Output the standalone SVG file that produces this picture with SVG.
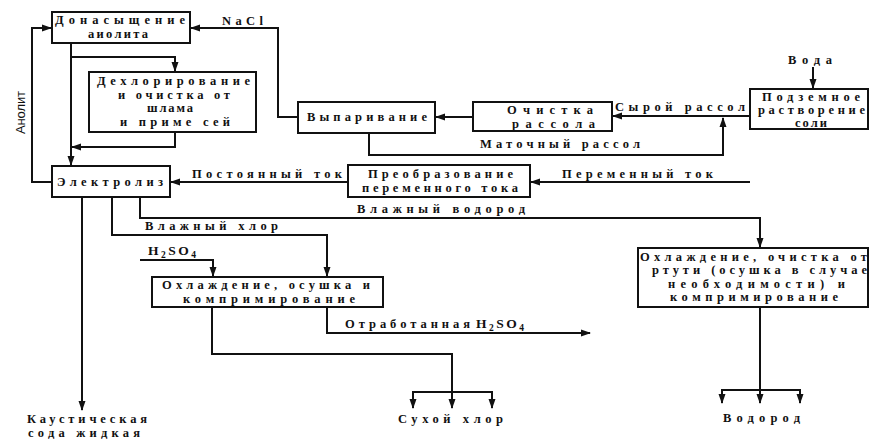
<svg xmlns="http://www.w3.org/2000/svg" width="872" height="439" viewBox="0 0 872 439">
<style>
text{font-family:"Liberation Serif","DejaVu Serif",serif;font-weight:bold;font-size:12.5px;fill:#111}
.chem{font-size:13.5px;letter-spacing:2.5px}
.sub{font-size:9.5px}
.box{fill:#fff;stroke:#111;stroke-width:2}
.ln{fill:none;stroke:#111;stroke-width:2}
.ar{fill:none;stroke:#111;stroke-width:2;marker-end:url(#ah)}
</style>
<defs>
<marker id="ah" markerWidth="10" markerHeight="10" refX="9" refY="5" orient="auto" markerUnits="userSpaceOnUse">
<path d="M0,1.5 L10,5 L0,8.5 Z" fill="#111"/>
</marker>
</defs>
<rect width="872" height="439" fill="#fff"/>
<g id="connectors">
<path class="ar" d="M298,117 H278 V28 H191"/>
<path class="ar" d="M52,182 H32 V28 H51"/>
<path class="ar" d="M71,43 V165"/>
<path class="ar" d="M71,57 H175 V71"/>
<path class="ar" d="M175,132 V147 H72"/>
<path class="ar" d="M348,182 H171"/>
<path class="ar" d="M473,117 H436"/>
<path class="ar" d="M369,133 V155 H723 V118"/>
<path class="ar" d="M750,116 H613"/>
<path class="ar" d="M813,67 V88"/>
<path class="ar" d="M750,182 H531"/>
<path class="ar" d="M82,197 V410"/>
<path class="ar" d="M112,197 V235 H327 V276"/>
<path class="ar" d="M140,197 V218 H760 V247"/>
<path class="ar" d="M140,260 H213 V276"/>
<path class="ar" d="M327,307 V333 H590"/>
<path class="ar" d="M212,307 V354 H452 V408"/>
<path class="ln" d="M413,392 H492"/>
<path class="ar" d="M413,391 V408"/>
<path class="ar" d="M492,391 V408"/>
<path class="ar" d="M760,307 V403"/>
<path class="ln" d="M722,390 H800"/>
<path class="ar" d="M722,389 V403"/>
<path class="ar" d="M800,389 V403"/>
</g>
<g id="labels">
<text x="222" y="25" textLength="41" lengthAdjust="spacing">NaCl</text>
<text transform="translate(25,134) rotate(-90)" textLength="43" lengthAdjust="spacing" style="font-family:'Liberation Sans',sans-serif;font-weight:normal;font-size:13px">Анолит</text>
<text x="192" y="178" textLength="150" lengthAdjust="spacing">Постоянный ток</text>
<text x="480" y="148" textLength="160" lengthAdjust="spacing">Маточный рассол</text>
<text x="615" y="111" textLength="130" lengthAdjust="spacing">Сырой рассол</text>
<text x="788" y="64" textLength="44" lengthAdjust="spacing">Вода</text>
<text x="562" y="178" textLength="151" lengthAdjust="spacing">Переменный ток</text>
<text x="357" y="213" textLength="168" lengthAdjust="spacing">Влажный водород</text>
<text x="145" y="230" textLength="133" lengthAdjust="spacing">Влажный хлор</text>
<text class="chem" x="148" y="255">H<tspan class="sub" dy="3">2</tspan><tspan dy="-3">SO</tspan><tspan class="sub" dy="3">4</tspan></text>
<text x="345" y="328" textLength="125" lengthAdjust="spacing">Отработанная</text>
<text class="chem" x="476" y="328">H<tspan class="sub" dy="3">2</tspan><tspan dy="-3">SO</tspan><tspan class="sub" dy="3">4</tspan></text>
<text x="27" y="423" textLength="120" lengthAdjust="spacing">Каустическая</text>
<text x="28" y="437" textLength="112" lengthAdjust="spacing">сода жидкая</text>
<text x="398" y="423" textLength="105" lengthAdjust="spacing">Сухой хлор</text>
<text x="723" y="422" textLength="77" lengthAdjust="spacing">Водород</text>
</g>
<g id="n-donasyshchenie">
<rect class="box" x="52" y="12" width="138" height="31"/>
<text x="55" y="24" textLength="130" lengthAdjust="spacing">Донасыщение</text>
<text x="88" y="38" textLength="60" lengthAdjust="spacing">аиолита</text>
</g>
<g id="n-dekhlor">
<rect class="box" x="89" y="72" width="167" height="60"/>
<text x="97" y="85" textLength="153" lengthAdjust="spacing">Дехлорирование</text>
<text x="118" y="98.5" textLength="112" lengthAdjust="spacing">и очистка от</text>
<text x="147" y="112" textLength="46" lengthAdjust="spacing">шлама</text>
<text x="120" y="125.5" textLength="110" lengthAdjust="spacing">и приме сей</text>
</g>
<g id="n-elektroliz">
<rect class="box" x="52" y="166" width="118" height="31"/>
<text x="57" y="186" textLength="106" lengthAdjust="spacing">Электролиз</text>
</g>
<g id="n-vyparivanie">
<rect class="box" x="298" y="102" width="137" height="31"/>
<text x="307" y="121" textLength="120" lengthAdjust="spacing">Выпаривание</text>
</g>
<g id="n-ochistka">
<rect class="box" x="473" y="102" width="139" height="29"/>
<text x="507" y="114" textLength="86" lengthAdjust="spacing">Очистка</text>
<text x="512" y="127.5" textLength="83" lengthAdjust="spacing">рассола</text>
</g>
<g id="n-podzemnoe">
<rect class="box" x="750" y="89" width="118" height="40"/>
<text x="762" y="100.5" textLength="98" lengthAdjust="spacing">Подземное</text>
<text x="758" y="114" textLength="107" lengthAdjust="spacing">растворение</text>
<text x="795" y="127" textLength="32" lengthAdjust="spacing">соли</text>
</g>
<g id="n-preobrazovanie">
<rect class="box" x="348" y="165" width="182" height="32"/>
<text x="368" y="178" textLength="145" lengthAdjust="spacing">Преобразование</text>
<text x="362" y="192" textLength="156" lengthAdjust="spacing">переменного тока</text>
</g>
<g id="n-okhlazhdenie-khlor">
<rect class="box" x="152" y="277" width="231" height="30"/>
<text x="162" y="289" textLength="208" lengthAdjust="spacing">Охлаждение, осушка и</text>
<text x="183" y="302.5" textLength="172" lengthAdjust="spacing">компримирование</text>
</g>
<g id="n-okhlazhdenie-vodorod">
<rect class="box" x="638" y="248" width="230" height="59"/>
<text x="640" y="260.5" textLength="227" lengthAdjust="spacing">Охлаждение, очистка от</text>
<text x="652" y="274" textLength="215" lengthAdjust="spacing">ртути (осушка в случае</text>
<text x="668" y="287.5" textLength="177" lengthAdjust="spacing">необходимости) и</text>
<text x="670" y="301" textLength="168" lengthAdjust="spacing">компримирование</text>
</g>
</svg>
